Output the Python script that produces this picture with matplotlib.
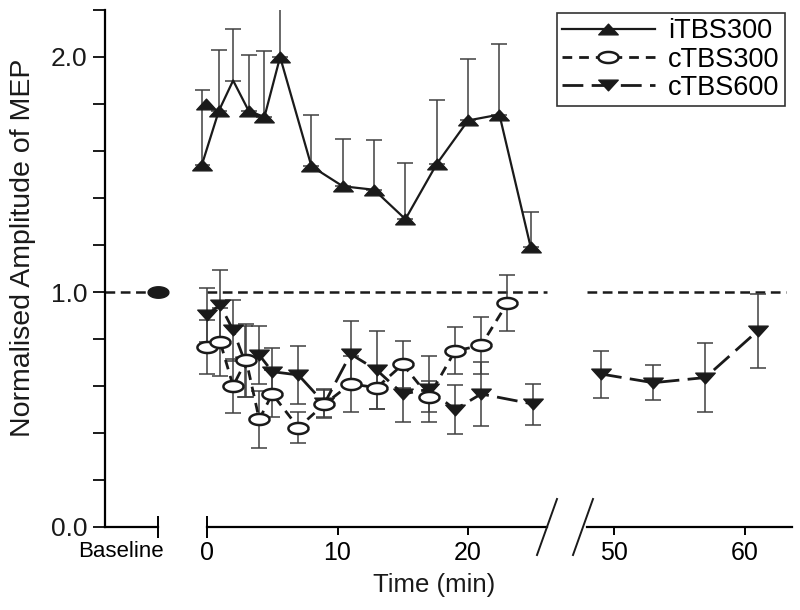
import numpy as np
import matplotlib
matplotlib.use("Agg")
import matplotlib.pyplot as plt
import matplotlib.transforms as mtransforms
from matplotlib.path import Path
from matplotlib.lines import Line2D

plt.rcParams['font.family'] = ['Liberation Sans', 'DejaVu Sans']
plt.rcParams['lines.scale_dashes'] = False

# data
baseline_value = [1.0]
ref_level = 1.0

itbs_time = [-0.4, 0.9, 2.0, 3.2, 4.4, 5.6, 8.0, 10.4, 12.8, 15.2, 17.6, 20.0, 22.4, 24.8]
itbs_mean = [1.54, 1.77, 1.90, 1.77, 1.745, 2.00, 1.535, 1.45, 1.435, 1.31, 1.545, 1.73, 1.755, 1.19]
itbs_err = [0.32, 0.26, 0.22, 0.24, 0.28, 0.21, 0.22, 0.20, 0.21, 0.24, 0.27, 0.26, 0.30, 0.15]
itbs_extra_time = [-0.1]
itbs_extra_mean = [1.80]

ctbs300_time = [0, 1, 2, 3, 4, 5, 7, 9, 11, 13, 15, 17, 19, 21, 23]
ctbs300_mean = [0.765, 0.789, 0.60, 0.71, 0.458, 0.566, 0.423, 0.523, 0.609,
                0.593, 0.692, 0.555, 0.749, 0.773, 0.952]
ctbs300_err = [0.115, 0.145, 0.115, 0.155, 0.12, 0.10, 0.065, 0.06, 0.12,
               0.09, 0.10, 0.065, 0.10, 0.12, 0.12]

ctbs600_time = [0, 1, 2, 2.9, 4, 5, 7, 9, 11, 13, 15, 17, 19, 21, 25, 49, 53, 57, 61]
ctbs600_mean = [0.902, 0.945, 0.838, 0.704, 0.732, 0.661, 0.647, 0.526, 0.736, 0.668,
                0.566, 0.586, 0.50, 0.566, 0.523, 0.651, 0.614, 0.636, 0.834]
ctbs600_err = [0.115, 0.15, 0.13, 0.15, 0.125, 0.10, 0.125, 0.06, 0.14, 0.166,
               0.118, 0.14, 0.105, 0.135, 0.087, 0.10, 0.075, 0.147, 0.158]

# x ranges of the two broken time segments
seg1 = (0, 26.05)
seg2 = (47.93, 63.64)

# custom markers: flat triangles and a wide ellipse
tri_up = Path([(-1, -0.55), (1, -0.55), (0, 0.55), (-1, -0.55)],
              [Path.MOVETO, Path.LINETO, Path.LINETO, Path.CLOSEPOLY])
tri_dn = Path([(-1, 0.55), (1, 0.55), (0, -0.55), (-1, 0.55)],
              [Path.MOVETO, Path.LINETO, Path.LINETO, Path.CLOSEPOLY])
th = np.linspace(0, 2 * np.pi, 60)
ellipse = Path(np.column_stack([np.cos(th), 0.55 * np.sin(th)]))

ink = '#1a1a1a'
ebar = '#404040'
ref_ls = (0, (7, 4))

fig = plt.figure(figsize=(8, 6.1), dpi=100)
W, H = 800.0, 610.0
y0, y1 = 527, 10


def add_ax(left, right):
    return fig.add_axes([left / W, (H - y0) / H, (right - left) / W, (y0 - y1) / H])


ax_b = add_ax(105, 158)
ax1 = add_ax(195, 549)
ax2 = add_ax(583, 792)

for ax in (ax_b, ax1, ax2):
    ax.set_ylim(0, 2.2)
    ax.spines['top'].set_visible(False)
    ax.spines['right'].set_visible(False)
    ax.patch.set_visible(False)
    ax.spines['bottom'].set_linewidth(1.6)
    ax.spines['left'].set_linewidth(1.6)

ax_b.set_xlim(-1, 0)
ax1.set_xlim(-0.92, 26.2)
ax2.set_xlim(47.62, 63.64)
ax1.spines['bottom'].set_bounds(*seg1)
ax2.spines['bottom'].set_bounds(*seg2)
for ax in (ax1, ax2):
    ax.spines['left'].set_visible(False)
    ax.tick_params(axis='y', left=False, labelleft=False)

# y axis
ax_b.set_yticks([0.0, 1.0, 2.0])
ax_b.set_yticklabels(['0.0', '1.0', '2.0'])
ax_b.set_yticks(np.arange(0, 2.21, 0.2), minor=True)
ax_b.tick_params(axis='y', which='both', direction='out', length=9, width=1.4,
                 labelsize=19, colors=ink)
ax_b.set_ylabel('Normalised Amplitude of MEP', fontsize=20.5, color=ink)
ax_b.yaxis.set_label_coords(-1.30, 0.54)

# x axes
ax_b.set_xticks([0])
ax_b.set_xticklabels(['Baseline'])
ax_b.tick_params(axis='x', direction='inout', length=16, width=1.4, labelsize=16, pad=2)
for lab in ax_b.get_xticklabels():
    lab.set_ha('right')
    lab.set_transform(lab.get_transform() +
                      mtransforms.ScaledTranslation(6 / 100, 0, fig.dpi_scale_trans))

ax1.set_xticks([10, 20])
ax1.set_xticks([0], minor=True)
ax1.set_xticklabels(['0'], minor=True)
ax2.set_xticks([50, 60])
for ax in (ax1, ax2):
    ax.tick_params(axis='x', which='major', direction='out', length=6, width=1.4,
                   labelsize=18, pad=4)
ax1.tick_params(axis='x', which='minor', direction='inout', length=16, width=1.4,
                labelsize=18, pad=2)

fig.text(434 / W, 1 - 585 / H, 'Time (min)', ha='center', va='center',
         fontsize=18.5, color=ink)

# reference line at 1.0
ax_b.axhline(ref_level, color=ink, lw=1.8, linestyle=ref_ls)
ax1.hlines(ref_level, *seg1, color=ink, lw=1.8, linestyles=[ref_ls])
ax2.hlines(ref_level, seg2[0], 63.2, color=ink, lw=1.8, linestyles=[ref_ls])

# baseline point (all groups overlap here)
ax_b.plot([0], baseline_value, ls='none', marker=ellipse, ms=15, color=ink,
          clip_on=False, zorder=5)

eb_kw = dict(ecolor=ebar, elinewidth=1.1, capsize=6, capthick=1.1, zorder=2)


def series(ax, t, m, e, lo, hi, **kw):
    t = np.asarray(t)
    sel = (t >= lo - 1) & (t <= hi + 1)
    t, m, e = t[sel], np.asarray(m)[sel], np.asarray(e)[sel]
    ax.errorbar(t, m, yerr=e, fmt='none', **eb_kw)
    return ax.plot(t, m, **kw)[0]


# iTBS300: upward error bars only, peak vertex drawn without marker
it = np.asarray(itbs_time)
ax1.errorbar(it, itbs_mean, yerr=[np.zeros(len(it)), itbs_err], fmt='none', **eb_kw)
mark_idx = [i for i in range(len(it)) if i != 2]
h_itbs, = ax1.plot(it, itbs_mean, color=ink, lw=1.6, marker=tri_up, ms=14,
                   markevery=mark_idx, zorder=4, clip_on=False)
ax1.plot(itbs_extra_time, itbs_extra_mean, ls='none', marker=tri_up, ms=14,
         color=ink, zorder=4, clip_on=False)

kw300 = dict(color=ink, lw=2.0, dashes=(7, 5), marker=ellipse, ms=14.5,
             mfc='white', mec=ink, mew=1.8, zorder=4)
kw600 = dict(color=ink, lw=2.0, dashes=(15, 6), marker=tri_dn, ms=14,
             mfc=ink, mec=ink, zorder=3)

h300 = series(ax1, ctbs300_time, ctbs300_mean, ctbs300_err, *seg1, **kw300)
h600 = series(ax1, ctbs600_time, ctbs600_mean, ctbs600_err, *seg1, **kw600)
series(ax2, ctbs600_time, ctbs600_mean, ctbs600_err, *seg2, **kw600)

# axis break slashes
for cx in (547, 583):
    fig.add_artist(Line2D([(cx - 10) / W, (cx + 10) / W],
                          [(H - y0 - 28) / H, (H - y0 + 28) / H],
                          color=ink, lw=1.4, transform=fig.transFigure))

leg = fig.legend([h_itbs, h300, h600], ['iTBS300', 'cTBS300', 'cTBS600'],
                 loc='upper right', bbox_to_anchor=(785 / W, 1 - 13 / H),
                 fontsize=19.5, handlelength=3.4, labelspacing=0.08,
                 borderpad=0.2, handletextpad=0.5, fancybox=False,
                 framealpha=1, edgecolor='#333333', borderaxespad=0)
leg.get_frame().set_linewidth(1.2)

fig.savefig('out.png', dpi=100)
